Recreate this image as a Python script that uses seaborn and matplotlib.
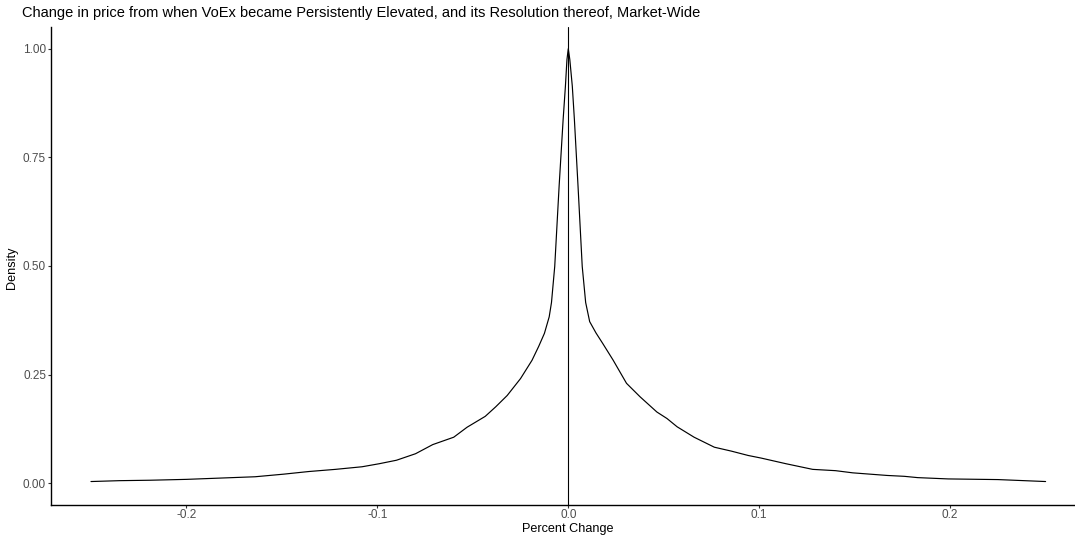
import numpy as np
import pandas as pd
import seaborn as sns
import matplotlib.pyplot as plt

# density curve (scaled so the peak is 1)
pct_change = [
    -0.250, -0.235, -0.219, -0.200, -0.182, -0.164, -0.149, -0.136, -0.122,
    -0.108, -0.099, -0.090, -0.080, -0.071, -0.060, -0.053, -0.0435, -0.038,
    -0.032, -0.025, -0.019, -0.0155, -0.0125, -0.010, -0.0088, -0.0071,
    -0.0048, -0.0027, -0.0015, -0.0007, 0.0,
    0.0008, 0.0021, 0.0032, 0.0051, 0.0073, 0.0091, 0.0112, 0.0145, 0.018,
    0.0234, 0.0305, 0.0376, 0.0464, 0.0517, 0.057, 0.0659, 0.0765, 0.0854,
    0.0942, 0.101, 0.114, 0.128, 0.140, 0.149, 0.167, 0.176, 0.183, 0.199,
    0.225, 0.250,
]
density = [
    0.004, 0.006, 0.007, 0.009, 0.012, 0.015, 0.021, 0.027, 0.032,
    0.038, 0.045, 0.053, 0.068, 0.089, 0.106, 0.129, 0.154, 0.176,
    0.202, 0.241, 0.283, 0.315, 0.345, 0.383, 0.416, 0.499,
    0.684, 0.837, 0.914, 0.975, 1.0,
    0.975, 0.914, 0.837, 0.684, 0.499, 0.416, 0.372, 0.346, 0.322,
    0.284, 0.230, 0.199, 0.164, 0.149, 0.130, 0.106, 0.083, 0.074,
    0.064, 0.058, 0.045, 0.032, 0.029, 0.024, 0.018, 0.016, 0.013, 0.010,
    0.0085, 0.004,
]
x_ticks = [-0.2, -0.1, 0.0, 0.1, 0.2]
x_tick_labels = ["-0.2", "-0.1", "0.0", "0.1", "0.2"]
y_ticks = [0.0, 0.25, 0.5, 0.75, 1.0]
y_tick_labels = ["0.00", "0.25", "0.50", "0.75", "1.00"]

df = pd.DataFrame({"pct_change": pct_change, "density": density})

sns.set_style("white")
plt.rcParams['font.family'] = ['Liberation Sans', 'DejaVu Sans']

fig = plt.figure(figsize=(10.75, 5.36), dpi=100)
ax = fig.add_axes([50.5 / 1075, 31 / 536, 1 - 50.5 / 1075, 478 / 536])

sns.lineplot(data=df, x="pct_change", y="density", color="black",
             linewidth=0.85, ax=ax)
ax.axvline(0, color="black", linewidth=0.8)

ax.set_xlim(-0.2712, 0.2654)
ax.set_ylim(-0.05, 1.05)
ax.set_xticks(x_ticks)
ax.set_xticklabels(x_tick_labels)
ax.set_yticks(y_ticks)
ax.set_yticklabels(y_tick_labels)

for side in ["top", "right"]:
    ax.spines[side].set_visible(False)
for side in ["left", "bottom"]:
    ax.spines[side].set_color("black")
    ax.spines[side].set_linewidth(1.0)

ax.tick_params(axis="both", which="major", length=2, width=0.8,
               color="#333333", labelcolor="#4D4D4D", labelsize=8.5, pad=1.2,
               bottom=True, left=True)
ax.set_xlabel("Percent Change", fontsize=9.1, color="black")
ax.set_ylabel("Density", fontsize=9.1, color="black")
ax.xaxis.set_label_coords((568 - 50.5) / 1024.5, -24 / 478)
ax.xaxis.label.set_va("center")
ax.yaxis.set_label_coords(-38.5 / 1024.5, 0.5 + (266 - 268) / 478)
ax.yaxis.label.set_va("center")

fig.text(22 / 1075, 1 - 13 / 536, "Change in price from when VoEx became Persistently Elevated, "
         "and its Resolution thereof, Market-Wide",
         fontsize=10.5, color="black", va="center", ha="left")

fig.savefig("out.png", dpi=100)
